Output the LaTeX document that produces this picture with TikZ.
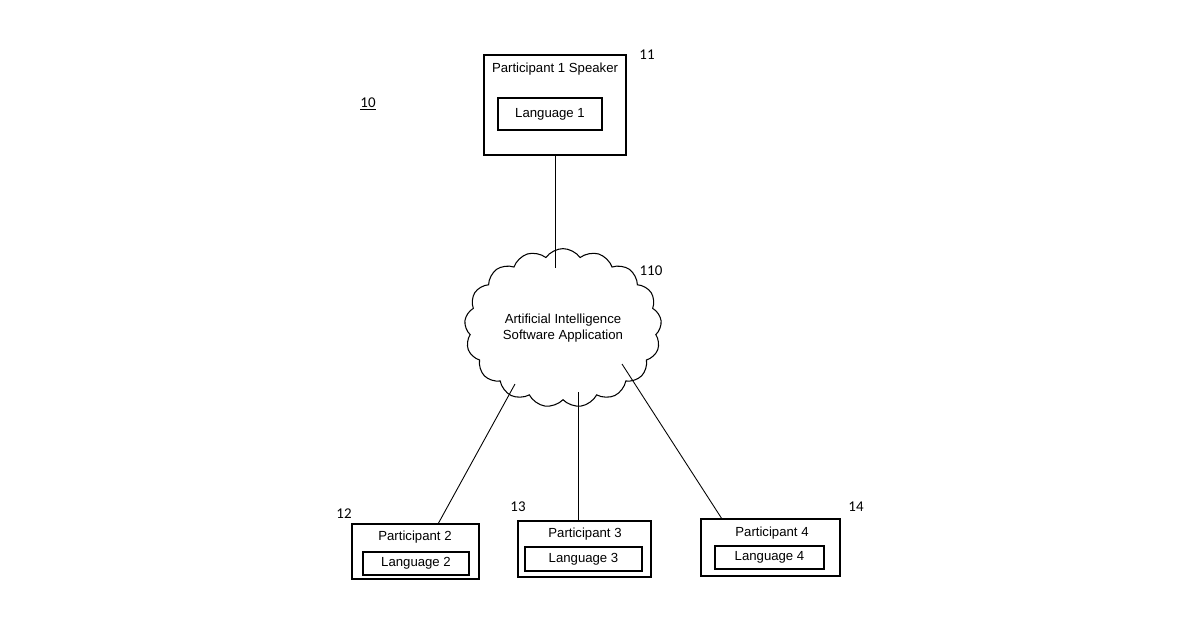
\documentclass[tikz,border=0pt]{standalone}
\usepackage{fontspec}
\setmainfont{Liberation Sans}
\newfontfamily\numfont{Carlito}
\usetikzlibrary{shapes.symbols, positioning}
\tikzset{
  box/.style={draw, line width=0.6pt, minimum width=#1, inner sep=0pt},
  inbox/.style={draw, line width=0.6pt, font=\fontsize{7.5}{9}\selectfont, inner sep=0pt},
  tag/.style={font=\numfont\fontsize{8.5}{10}\selectfont},
  link/.style={line width=0.5pt}
}
\begin{document}
\begin{tikzpicture}[x=0.02cm, y=-0.02cm]
    \useasboundingbox (0,0) rectangle (1200,630);
    % speaker
    \node[box=142*0.02cm, minimum height=2cm] (p1) at (555,105) {};
    \node[font=\fontsize{7.5}{9}\selectfont] (p1t) at (555,69) {Participant 1 Speaker};
    \node[inbox, minimum width=2.08cm, minimum height=0.64cm] (l1) at (550,114) {Language 1};
    \node[tag] (n11) at (647,55) {11};
    \node[tag] (n10) at (368,104) {\underline{10}};
    % cloud
    \node[cloud, draw, line width=0.6pt, cloud puffs=17, cloud puff arc=110, aspect=1.3,
          minimum width=3.2cm, minimum height=2.6cm, align=center,
          font=\fontsize{7.5}{9}\selectfont] (ai) at (563,328)
          {Artificial Intelligence\\Software Application};
    \node[tag] (n110) at (651,271) {110};
    % listeners
    \node[box=127*0.02cm, minimum height=1.1cm] (p2) at (415.5,551.5) {};
    \node[font=\fontsize{7.5}{9}\selectfont] (p2t) at (415,537) {Participant 2};
    \node[inbox, minimum width=2.12cm, minimum height=0.46cm] (l2) at (416,563.5) {Language 2};
    \node[tag] (n12) at (344,514) {12};
    \node[box=133*0.02cm, minimum height=1.12cm] (p3) at (584.5,549) {};
    \node[font=\fontsize{7.5}{9}\selectfont] (p3t) at (585,534) {Participant 3};
    \node[inbox, minimum width=2.34cm, minimum height=0.48cm] (l3) at (583.5,559) {Language 3};
    \node[tag] (n13) at (518,507) {13};
    \node[box=139*0.02cm, minimum height=1.14cm] (p4) at (770.5,547.5) {};
    \node[font=\fontsize{7.5}{9}\selectfont] (p4t) at (772,533) {Participant 4};
    \node[inbox, minimum width=2.18cm, minimum height=0.46cm] (l4) at (769.5,557.5) {Language 4};
    \node[tag] (n14) at (856,507) {14};
    % connectors
    \coordinate (a1) at (555,268);
    \coordinate (a2) at (515,384);
    \coordinate (a3) at (578,392);
    \coordinate (a4) at (622,364);
    \coordinate (b2) at (438,524);
    \coordinate (b4) at (722,519);
    \draw[link] (p1.south) -- (a1);
    \draw[link] (a2) -- (b2);
    \draw[link] (a3) -- (a3 |- p3.north);
    \draw[link] (a4) -- (b4);
\end{tikzpicture}
\end{document}
